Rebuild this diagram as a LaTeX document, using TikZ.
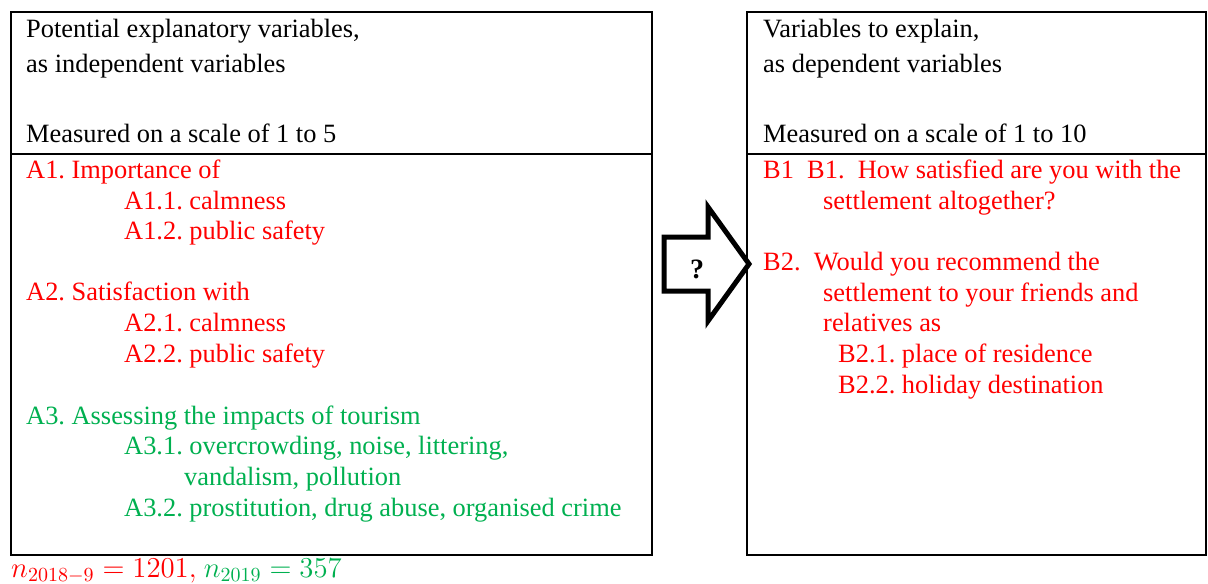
\documentclass[tikz,border=0pt]{standalone}
\usepackage{fontspec}
\setmainfont{Liberation Serif}
\usetikzlibrary{positioning}
\definecolor{wred}{HTML}{FF0000}
\definecolor{wgreen}{HTML}{00B050}
\frenchspacing
\tikzset{
  every picture/.style={line width=1.2pt},
  panel/.style={draw=black, line width=1.2pt, outer sep=0pt, inner sep=0pt, anchor=north west, minimum width=#1},
  panel/.default=320.5pt,
  head/.style={anchor=base west, inner sep=0pt, align=left, font=\fontsize{13.2}{17.5}\selectfont},
  body/.style={anchor=base west, inner sep=0pt, align=left, font=\fontsize{13.2}{15.3}\selectfont, text=#1},
  body/.default=wred,
  blockarrow/.style={draw=black, line width=2.5pt, fill=white, line join=miter},
}

\begin{document}
\begin{tikzpicture}[x=0.5pt, y=-0.5pt]
  \useasboundingbox (0,0) rectangle (1208,583);
  \node[panel, minimum height=71pt] (lefttop) at (11,12) {};
  \node[panel, minimum height=200.5pt, below=0pt of lefttop.south west, anchor=north west] (leftbot) {};
  \node[panel=229.5pt, minimum height=71pt] (righttop) at (747,12) {};
  \node[panel=229.5pt, minimum height=200.5pt, below=0pt of righttop.south west, anchor=north west] (rightbot) {};

  \node[head] (lefthead) at (25,142) {Potential explanatory variables,\\
    as independent variables\\[17.5pt]
    Measured on a scale of 1 to 5};
  \node[head] (righthead) at (762,142) {Variables to explain,\\
    as dependent variables\\[17.5pt]
    Measured on a scale of 1 to 10};

  \node[body] (calm) at (25,362) {A1. Importance of\\
    \hspace*{49pt}A1.1. calmness\\
    \hspace*{49pt}A1.2. public safety\\[15.3pt]
    A2. Satisfaction with\\
    \hspace*{49pt}A2.1. calmness\\
    \hspace*{49pt}A2.2. public safety};
  \node[body=wgreen] (tourism) at (25,516) {A3. Assessing the impacts of tourism\\
    \hspace*{49pt}A3.1. overcrowding, noise, littering,\\
    \hspace*{79pt}vandalism, pollution\\
    \hspace*{49pt}A3.2. prostitution, drug abuse, organised crime};

  \node[body] (satisf) at (762,393) {B1\ \ B1.\ \ How satisfied are you with the\\
    \hspace*{30pt}settlement altogether?\\[15.3pt]
    B2.\ \ Would you recommend the\\
    \hspace*{30pt}settlement to your friends and\\
    \hspace*{30pt}relatives as\\
    \hspace*{37.5pt}B2.1. place of residence\\
    \hspace*{37.5pt}B2.2. holiday destination};

  \draw[blockarrow] (664,237) -- (708,237) -- (708,207) -- (749,264)
    -- (708,321) -- (708,291) -- (664,291) -- cycle;
  \node[font=\fontsize{14}{15}\selectfont\bfseries] (query) at (697,269) {?};

  \node[anchor=base west, inner sep=0pt, font=\fontsize{14}{16}\selectfont] (sizes) at (10,577)
    {$\color{wred}n_{2018-9}=1201,$ $\color{wgreen}n_{2019}=357$};
\end{tikzpicture}
\end{document}
